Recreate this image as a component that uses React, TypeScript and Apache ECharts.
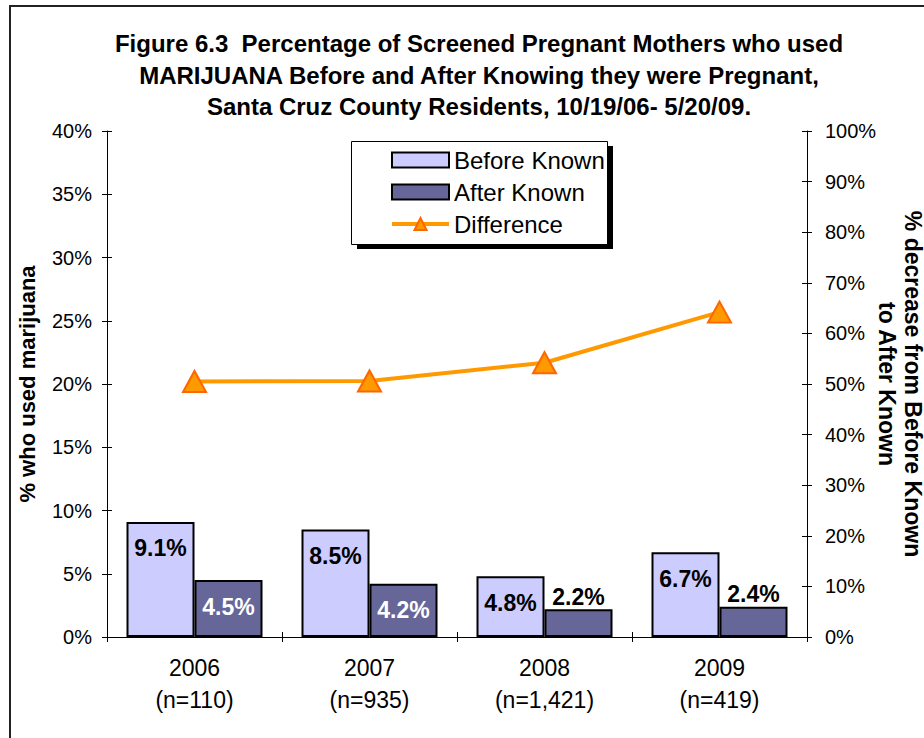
import React, { useEffect, useRef } from "react";
import * as echarts from "echarts";

const categories = ["2006", "2007", "2008", "2009"];
const sampleSizes = ["(n=110)", "(n=935)", "(n=1,421)", "(n=419)"];
const beforeKnown = [9.1, 8.5, 4.8, 6.7];
const afterKnown = [4.5, 4.2, 2.2, 2.4];
const difference = [50.5, 50.6, 54.2, 64.2];
const leftTicks = { min: 0, max: 40, interval: 5 };
const rightTicks = { min: 0, max: 100, interval: 10 };

const FONT = "'Liberation Sans', Arial, sans-serif";

export default function App() {
  const ref = useRef<HTMLDivElement>(null);
  useEffect(() => {
    document.body.style.margin = "0";
    const chart = echarts.init(ref.current!, null, { renderer: "svg" });
    const pct = (p: any) => Number(p.value).toFixed(1) + "%";
    const labelFont = { fontFamily: FONT, fontSize: 23, fontWeight: "bold" as const };
    const axisLine = { show: true, lineStyle: { color: "#000", width: 1 } };
    const tickOut = { show: true, length: 5, lineStyle: { color: "#000" } };
    const tickIn = { show: true, inside: true, length: 5, lineStyle: { color: "#000" } };
    const option: any = {
      animation: false,
      backgroundColor: "#fff",
      grid: { left: 107, right: 117, top: 131, bottom: 101, containLabel: false, outerBoundsMode: "none" },
      legend: {
        orient: "vertical",
        left: 390,
        top: 148,
        itemWidth: 57,
        itemHeight: 15,
        itemGap: 8,
        padding: 0,
        textStyle: { fontFamily: FONT, fontSize: 24, color: "#000", lineHeight: 24 },
        data: [
          { name: "Before Known", icon: "rect", itemStyle: { color: "#CCCCFF", borderColor: "#000", borderWidth: 2 } },
          { name: "After Known", icon: "rect", itemStyle: { color: "#666699", borderColor: "#000", borderWidth: 2 } },
          {
            name: "Difference",
            lineStyle: { color: "#FF9900", width: 4 },
            itemStyle: { color: "#FF9900", borderColor: "#FF6600", borderWidth: 2 },
          },
        ],
        z: 10,
      },
      graphic: [
        { type: "rect", z: 0, shape: { x: 10, y: 6, width: 1200, height: 1200 }, style: { fill: "none", stroke: "#222", lineWidth: 2 } },
        { type: "rect", z: 5, shape: { x: 357, y: 146, width: 256, height: 103 }, style: { fill: "#000" } },
        { type: "rect", z: 6, shape: { x: 351.5, y: 141.5, width: 256, height: 103 }, style: { fill: "#fff", stroke: "#000", lineWidth: 1 } },
        {
          type: "text",
          z: 10,
          x: 479,
          y: 28,
          style: {
            text:
              "Figure 6.3  Percentage of Screened Pregnant Mothers who used\nMARIJUANA Before and After Knowing they were Pregnant,\nSanta Cruz County Residents, 10/19/06- 5/20/09.",
            font: "bold 24px 'Liberation Sans', Arial, sans-serif",
            fill: "#000",
            textAlign: "center",
            textVerticalAlign: "top",
            lineHeight: 31.5,
          },
        },
      ],
      xAxis: [
        {
          type: "category",
          data: categories.map((c, i) => c + "\n" + sampleSizes[i]),
          axisLine,
          axisTick: tickOut,
          axisLabel: { fontFamily: FONT, fontSize: 23, color: "#000", lineHeight: 32, margin: 15 },
          splitLine: { show: false },
        },
        {
          type: "category",
          position: "bottom",
          data: categories,
          axisLine: { show: false },
          axisTick: tickIn,
          axisLabel: { show: false },
          splitLine: { show: false },
        },
      ],
      yAxis: [
        {
          type: "value",
          position: "left",
          ...leftTicks,
          axisLine,
          axisTick: tickOut,
          splitLine: { show: false },
          axisLabel: { formatter: "{value}%", fontFamily: FONT, fontSize: 20, color: "#000", margin: 15 },
          name: "% who used marijuana",
          nameLocation: "middle",
          nameRotate: 90,
          nameGap: 69,
          nameMoveOverlap: false,
          nameTextStyle: { fontFamily: FONT, fontSize: 22, fontWeight: "bold", color: "#000" },
        },
        {
          type: "value",
          position: "right",
          ...rightTicks,
          axisLine,
          axisTick: tickOut,
          splitLine: { show: false },
          axisLabel: { formatter: "{value}%", fontFamily: FONT, fontSize: 20, color: "#000", margin: 18 },
          name: "% decrease from Before Known\nto After Known",
          nameLocation: "middle",
          nameRotate: -90,
          nameGap: 67,
          nameMoveOverlap: false,
          nameTextStyle: { fontFamily: FONT, fontSize: 23, fontWeight: "bold", color: "#000", lineHeight: 26, align: "center" },
        },
        {
          type: "value",
          position: "left",
          ...leftTicks,
          axisLine: { show: false },
          axisTick: tickIn,
          axisLabel: { show: false },
          splitLine: { show: false },
        },
        {
          type: "value",
          position: "right",
          ...rightTicks,
          axisLine: { show: false },
          axisTick: tickIn,
          axisLabel: { show: false },
          splitLine: { show: false },
        },
      ],
      series: [
        {
          name: "Before Known",
          type: "bar",
          data: beforeKnown,
          barWidth: 68,
          barGap: "0%",
          itemStyle: { color: "#CCCCFF", borderColor: "#000", borderWidth: 2 },
          label: { show: true, position: "insideTop", distance: 15, formatter: pct, color: "#000", ...labelFont },
        },
        {
          name: "After Known",
          type: "bar",
          data: afterKnown.map((v) => {
            const inside = v >= 4;
            return {
              value: v,
              label: inside
                ? { position: "insideTop", distance: 15, color: "#fff" }
                : { position: "top", distance: 1, color: "#000" },
            };
          }),
          barWidth: 68,
          barGap: "0%",
          itemStyle: { color: "#666699", borderColor: "#000", borderWidth: 2 },
          label: { show: true, formatter: pct, ...labelFont },
        },
        {
          name: "Difference",
          type: "line",
          yAxisIndex: 1,
          data: difference,
          symbol: "triangle",
          symbolSize: [23, 21],
          lineStyle: { color: "#FF9900", width: 4 },
          itemStyle: { color: "#FF9900", borderColor: "#FF6600", borderWidth: 2 },
          z: 5,
        },
      ],
    };
    chart.setOption(option);
    return () => chart.dispose();
  }, []);
  return <div ref={ref} style={{ width: 924, height: 738 }} />;
}
